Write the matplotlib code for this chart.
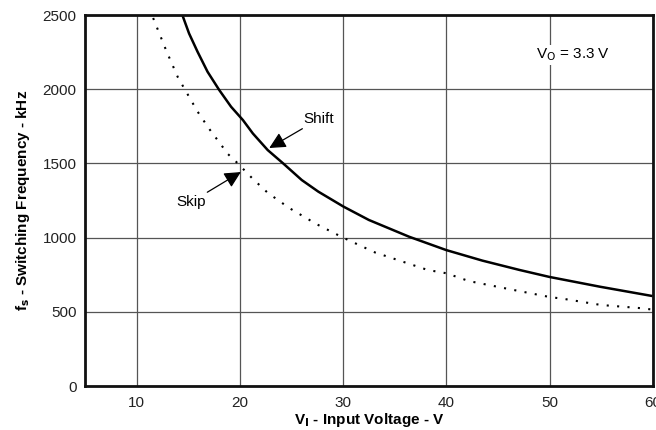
import matplotlib
matplotlib.use('Agg')
import matplotlib.pyplot as plt

plt.rcParams['font.family'] = ['Liberation Sans', 'DejaVu Sans']

# Shift curve (solid) and Skip curve (dotted)
shift_v = [14.43, 15.08, 15.9, 16.87, 18.0, 19.15, 20.3, 21.26, 22.7, 24.2, 26.0, 27.6,
           30.04, 32.5, 36.4, 40.0, 43.5, 47.1, 50.0, 54.9, 60.0]
shift_f = [2500, 2376, 2253, 2118, 1995, 1882, 1792, 1702, 1590, 1500, 1388, 1310,
           1209, 1119, 1006, 916, 845, 782, 735, 669, 606]

skip_v = [11.6, 12.9, 14.0, 15.9, 17.0, 18.85, 19.7, 21.2, 22.7, 24.8, 27.4, 30.0,
          33.1, 38.2, 40.0, 42.2, 46.1, 50.0, 51.5, 55.0, 58.6, 60.0]
skip_f = [2480, 2255, 2080, 1850, 1736, 1563, 1507, 1400, 1302, 1199, 1092, 1000,
          900, 782, 760, 707, 653, 600, 586, 546, 526, 515]

x_ticks = [10, 20, 30, 40, 50, 60]
y_ticks = [0, 500, 1000, 1500, 2000, 2500]

fig = plt.figure(figsize=(6.56, 4.30), dpi=100)
ax = fig.add_axes([0.1296, 0.1023, 0.8654, 0.8627])

ax.plot(shift_v, shift_f, color='black', linewidth=1.8, solid_capstyle='butt',
        solid_joinstyle='round')
ax.plot(skip_v, skip_f, color='black', linewidth=1.5, linestyle=(0, (1, 4)),
        dash_capstyle='butt')

ax.set_xlim(5, 60)
ax.set_ylim(0, 2500)
ax.set_xticks(x_ticks)
ax.set_yticks(y_ticks)
ax.tick_params(length=0, labelsize=11, colors='#222222')
ax.tick_params(axis='x', pad=7)
ax.tick_params(axis='y', pad=6)
ax.grid(True, color='#555555', linewidth=0.9)
ax.set_axisbelow(True)
for s in ax.spines.values():
    s.set_linewidth(2)
    s.set_color('#111111')

ax.set_xlabel(r'V$_\mathbf{I}$ - Input Voltage - V', fontsize=11, fontweight='bold', labelpad=1)
ax.set_ylabel(r'f$_\mathbf{s}$ - Switching Frequency - kHz', fontsize=11, fontweight='bold', labelpad=8)

arr = dict(arrowstyle='-|>,head_length=0.9,head_width=0.45', color='black', lw=0.9,
           shrinkA=0, shrinkB=0)
ax.annotate('Shift', xy=(22.85, 1604), xytext=(26.2, 1800), fontsize=11,
            ha='left', va='center', arrowprops=arr)
ax.annotate('Skip', xy=(20.1, 1442), xytext=(16.7, 1240), fontsize=11,
            ha='right', va='center', arrowprops=arr)
ax.text(52.3, 2230, r'V$_\mathrm{O}$ = 3.3 V', fontsize=11, ha='center', va='center',
        bbox=dict(facecolor='white', edgecolor='none', pad=1))

fig.savefig('out.png', dpi=100)
